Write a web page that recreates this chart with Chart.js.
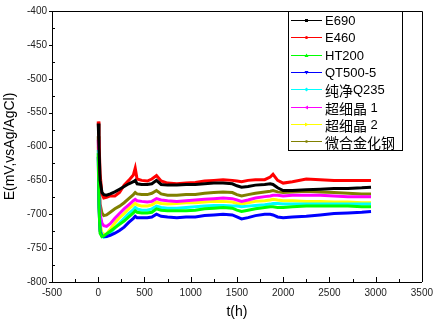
<!DOCTYPE html>
<html>
<head>
<meta charset="utf-8">
<script src="https://cdn.jsdelivr.net/npm/chart.js@4.4.0/dist/chart.umd.min.js"></script>
<style>
    html, body { margin: 0; padding: 0; background: #fff; }
    #wrap { width: 438px; height: 323px; }
</style>
</head>
<body>
<div id="wrap"><canvas id="chart" width="438" height="323"></canvas></div>
<script>
// Time axis (hours), shared by every series
const hours = [0, 8, 20, 40, 60, 90, 130, 180, 230, 280, 330, 380, 400, 420, 470, 530, 580, 630, 680, 750,
    850, 950, 1050, 1150, 1250, 1350, 1450, 1500, 1550, 1620, 1700, 1800, 1860, 1890, 1940, 2000,
    2100, 2250, 2400, 2550, 2700, 2850, 2950];

// Potential readings, mV vs Ag/AgCl
const e690 = [-566, -600, -650, -668, -671, -672, -670, -667, -663, -659, -655, -652, -650, -655, -656, -656, -655, -650, -656, -657,
    -657, -656, -656, -655, -654, -654, -655, -658, -660, -659, -657, -656, -655, -656, -661, -665,
    -665, -664, -663, -662, -662, -661, -660];
const e460 = [-563, -590, -640, -670, -676, -675, -673, -673, -668, -657, -650, -642, -632, -648, -650, -651, -648, -643, -651, -654,
    -655, -654, -653, -651, -650, -649, -650, -651, -652, -650, -649, -649, -645, -641, -650, -654,
    -652, -648, -649, -650, -650, -650, -650];
const ht200 = [-610, -690, -728, -733, -732, -729, -725, -720, -715, -710, -704, -698, -695, -697, -698, -698, -697, -692, -694, -695,
    -695, -695, -694, -692, -691, -690, -691, -694, -696, -694, -692, -690, -689, -689, -690, -690,
    -689, -688, -688, -688, -688, -689, -689];
const qt500 = [-615, -690, -725, -732, -733, -733, -731, -728, -724, -719, -712, -706, -703, -705, -705, -705, -704, -700, -703, -704,
    -705, -704, -704, -702, -701, -700, -701, -704, -707, -705, -702, -700, -700, -701, -704, -705,
    -704, -703, -701, -699, -698, -697, -696];
const q235 = [-605, -680, -722, -731, -734, -733, -728, -720, -713, -706, -699, -693, -690, -692, -694, -694, -692, -688, -690, -691,
    -691, -690, -689, -688, -687, -687, -688, -688, -689, -688, -687, -686, -685, -684, -684, -685,
    -685, -685, -685, -685, -685, -685, -685];
const fine1 = [-590, -650, -700, -713, -717, -718, -714, -706, -699, -692, -686, -680, -678, -680, -681, -682, -681, -677, -679, -680,
    -681, -680, -679, -678, -677, -676, -677, -679, -681, -679, -676, -674, -673, -672, -672, -673,
    -672, -672, -672, -673, -674, -674, -674];
const fine2 = [-600, -670, -715, -727, -730, -729, -722, -713, -705, -699, -692, -686, -684, -686, -688, -688, -686, -682, -684, -685,
    -684, -683, -683, -682, -681, -681, -682, -684, -685, -683, -681, -680, -679, -678, -679, -680,
    -680, -681, -681, -682, -682, -683, -683];
const microAlloy = [-585, -640, -685, -698, -702, -701, -697, -692, -688, -683, -677, -671, -668, -670, -671, -671, -669, -665, -670, -672,
    -672, -671, -671, -669, -668, -667, -668, -671, -673, -671, -669, -667, -666, -665, -667, -668,
    -667, -666, -667, -668, -669, -670, -670];

const seriesNames = ['E690', 'E460', 'HT200', 'QT500-5', '纯净Q235', '超细晶 1', '超细晶 2', '微合金化钢'];
const seriesValues = [e690, e460, ht200, qt500, q235, fine1, fine2, microAlloy];
const seriesColors = ['#000000', '#ff0000', '#00ff00', '#0000ff', '#00ffff', '#ff00ff', '#ffff00', '#808000'];
const markerShapes = ['square', 'circle', 'triUp', 'triDown', 'diamond', 'triLeft', 'triRight', 'hex'];

// Axis ticks
const xTickValues = [-500, 0, 500, 1000, 1500, 2000, 2500, 3000, 3500];
const yTickValues = [-800, -750, -700, -650, -600, -550, -500, -450, -400];

const datasets = seriesNames.map((name, i) => ({
    label: name,
    data: hours.map((t, j) => ({ x: t, y: seriesValues[i][j] })),
    borderColor: seriesColors[i],
    backgroundColor: seriesColors[i],
    borderWidth: 3,
    pointRadius: 0,
    tension: 0,
    fill: false
}));

// Small marker used in the legend samples
function drawMarker(ctx, shape, x, y, color) {
    const r = 1.5;
    ctx.fillStyle = color;
    ctx.beginPath();
    if (shape === 'square') {
        ctx.rect(x - r, y - r, r * 2, r * 2);
    } else if (shape === 'circle') {
        ctx.arc(x, y, r, 0, Math.PI * 2);
    } else if (shape === 'triUp') {
        ctx.moveTo(x, y - r - 0.5); ctx.lineTo(x + r + 0.5, y + r); ctx.lineTo(x - r - 0.5, y + r);
    } else if (shape === 'triDown') {
        ctx.moveTo(x, y + r + 0.5); ctx.lineTo(x + r + 0.5, y - r); ctx.lineTo(x - r - 0.5, y - r);
    } else if (shape === 'diamond') {
        ctx.moveTo(x, y - r - 0.5); ctx.lineTo(x + r + 0.5, y); ctx.lineTo(x, y + r + 0.5); ctx.lineTo(x - r - 0.5, y);
    } else if (shape === 'triLeft') {
        ctx.moveTo(x - r - 0.5, y); ctx.lineTo(x + r, y - r - 0.5); ctx.lineTo(x + r, y + r + 0.5);
    } else if (shape === 'triRight') {
        ctx.moveTo(x + r + 0.5, y); ctx.lineTo(x - r, y - r - 0.5); ctx.lineTo(x - r, y + r + 0.5);
    } else {
        for (let k = 0; k < 6; k++) {
            const a = Math.PI / 3 * k;
            ctx.lineTo(x + Math.cos(a) * r, y + Math.sin(a) * r);
        }
    }
    ctx.closePath();
    ctx.fill();
}

// Legend box inside the plot, Origin style
const legendBox = {
    id: 'legendBox',
    afterDatasetsDraw(chart) {
        const ctx = chart.ctx;
        const x0 = 288, y0 = chart.chartArea.top, w = 114, h = 139;
        ctx.save();
        ctx.fillStyle = '#fff';
        ctx.fillRect(x0, y0, w, h);
        ctx.strokeStyle = '#000';
        ctx.lineWidth = 1;
        ctx.strokeRect(x0 + 0.5, y0 + 0.5, w, h);
        ctx.textBaseline = 'middle';
        chart.data.datasets.forEach((ds, i) => {
            const y = Math.round(y0 + 9 + i * 17.3) + 0.5;
            ctx.strokeStyle = ds.borderColor;
            ctx.beginPath();
            ctx.moveTo(291, y);
            ctx.lineTo(322, y);
            ctx.stroke();
            drawMarker(ctx, markerShapes[i], 306.5, y, ds.borderColor);

            // Latin and CJK runs use different fonts
            let tx = 325;
            ctx.fillStyle = '#000';
            const runs = ds.label.match(/[\u4e00-\u9fff]+|[^\u4e00-\u9fff]+/g);
            runs.forEach(run => {
                if (/[\u4e00-\u9fff]/.test(run)) {
                    ctx.font = '14px "Noto Sans CJK SC"';
                } else {
                    ctx.font = '13px "Liberation Sans", Arial, sans-serif';
                }
                ctx.fillText(run, tx, y + 1);
                tx += ctx.measureText(run).width;
            });
        });
        ctx.restore();
    }
};

// Frame and tick marks (major out / minor in on y, all in on x)
const axisTicks = {
    id: 'axisTicks',
    afterDraw(chart) {
        const { ctx, chartArea: a, scales: { x, y } } = chart;
        ctx.save();
        ctx.strokeStyle = '#000';
        ctx.lineWidth = 1;
        ctx.beginPath();
        for (let v = yTickValues[0]; v <= yTickValues[yTickValues.length - 1]; v += 25) {
            const py = Math.round(y.getPixelForValue(v)) + 0.5;
            if (v % 50 === 0) {
                ctx.moveTo(a.left - 3, py); ctx.lineTo(a.left, py);
            } else {
                ctx.moveTo(a.left, py); ctx.lineTo(a.left + 3, py);
            }
        }
        for (let v = xTickValues[0]; v <= xTickValues[xTickValues.length - 1]; v += 250) {
            const px = Math.round(x.getPixelForValue(v)) + 0.5;
            const len = v % 500 === 0 ? 5 : 3;
            ctx.moveTo(px, a.bottom); ctx.lineTo(px, a.bottom - len);
        }
        // top and right frame lines
        ctx.moveTo(a.left, Math.round(a.top) + 0.5);
        ctx.lineTo(Math.round(a.right) + 0.5, Math.round(a.top) + 0.5);
        ctx.lineTo(Math.round(a.right) + 0.5, a.bottom);
        ctx.stroke();
        ctx.restore();
    }
};

const tickFont = { family: '"Liberation Sans", Arial, sans-serif', size: 10 };
const titleFont = { family: '"Liberation Sans", Arial, sans-serif', size: 14 };

new Chart(document.getElementById('chart'), {
    type: 'line',
    data: { datasets },
    options: {
        responsive: false,
        animation: false,
        devicePixelRatio: 1,
        layout: { padding: { top: 7, right: 15, left: 0, bottom: 0 } },
        plugins: {
            legend: { display: false },
            tooltip: { enabled: false }
        },
        scales: {
            x: {
                type: 'linear',
                min: -500,
                max: 3500,
                afterBuildTicks: (scale) => { scale.ticks = xTickValues.map(v => ({ value: v })); },
                afterFit: (scale) => { scale.height = 41; },
                grid: { display: false, drawTicks: false },
                border: { display: true, color: '#000', width: 1 },
                ticks: { font: tickFont, color: '#222', padding: 5, maxRotation: 0, autoSkip: false, callback: (v) => String(v) },
                title: { display: true, text: 't(h)', font: titleFont, color: '#000', padding: { top: 0, bottom: 2 } }
            },
            y: {
                type: 'linear',
                min: -800,
                max: -400,
                afterBuildTicks: (scale) => { scale.ticks = yTickValues.map(v => ({ value: v })); },
                afterFit: (scale) => { scale.width = 52; },
                grid: { display: false, drawTicks: false },
                border: { display: true, color: '#000', width: 1 },
                ticks: { font: tickFont, color: '#222', padding: 5, autoSkip: false, callback: (v) => String(v) },
                title: { display: true, text: 'E(mV,vsAg/AgCl)', font: titleFont, color: '#000', padding: { top: 2, bottom: 0 } }
            }
        }
    },
    plugins: [legendBox, axisTicks]
});
</script>
</body>
</html>
